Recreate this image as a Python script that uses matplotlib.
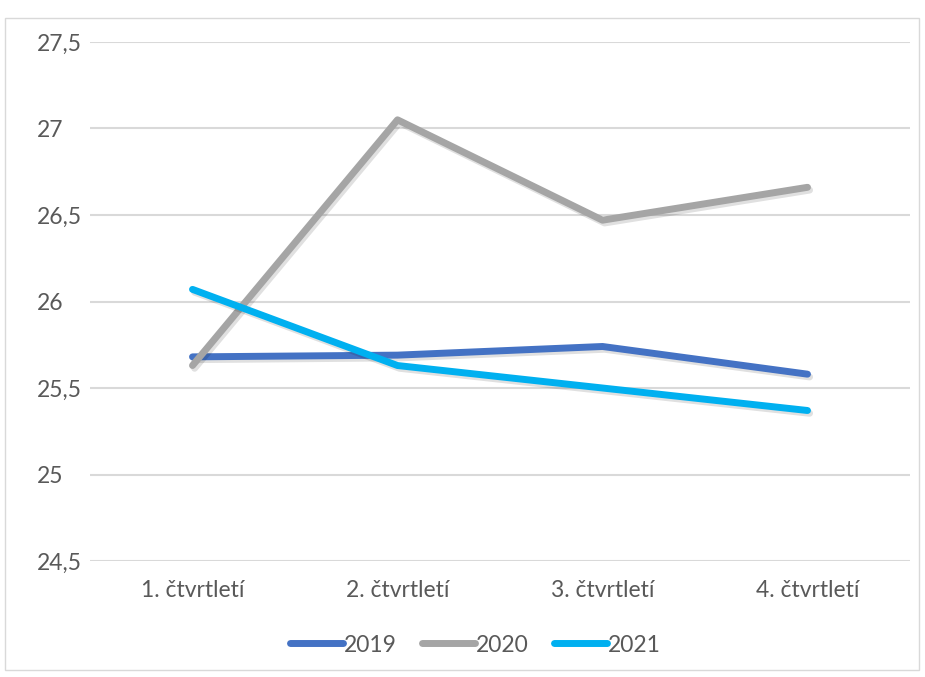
import matplotlib
matplotlib.use("Agg")
import matplotlib.pyplot as plt
import matplotlib.patheffects as pe
from matplotlib.patches import Rectangle
from matplotlib.ticker import FuncFormatter

quarters = ["1. čtvrtletí", "2. čtvrtletí", "3. čtvrtletí", "4. čtvrtletí"]
years = ["2019", "2020", "2021"]
values_2019 = [25.68, 25.69, 25.74, 25.58]
values_2020 = [25.63, 27.05, 26.47, 26.66]
values_2021 = [26.07, 25.63, 25.50, 25.37]
colors = ["#4472C4", "#A5A5A5", "#00B0F0"]

plt.rcParams['font.family'] = ['Lato', 'DejaVu Sans']

fig = plt.figure(figsize=(9.25, 6.77), dpi=100)
ax = fig.add_axes([0.0973, 0.1713, 0.8865, 0.7667])

# outer chart border
fig.patches.append(Rectangle((5 / 925, 7 / 677), 914 / 925, 652 / 677, transform=fig.transFigure,
                             fill=False, edgecolor="#D9D9D9", linewidth=1))

x = range(len(quarters))
shadow = [pe.SimpleLineShadow(offset=(1.5, -2), shadow_color="black", alpha=0.12), pe.Normal()]
for label, vals, c in zip(years, [values_2019, values_2020, values_2021], colors):
    ax.plot(x, vals, color=c, linewidth=5, solid_capstyle="round", solid_joinstyle="round",
            label=label, path_effects=shadow, zorder=3)

ax.set_xlim(-0.5, 3.5)
ax.set_ylim(24.5, 27.5)
ax.set_yticks([24.5, 25, 25.5, 26, 26.5, 27, 27.5])
ax.yaxis.set_major_formatter(FuncFormatter(lambda v, p: ("%g" % v).replace(".", ",")))
ax.set_xticks(list(x))
ax.set_xticklabels(quarters)
ax.tick_params(length=0, labelsize=16.5, labelcolor="#595959")
ax.tick_params(axis="x", pad=14)
for lbl in ax.get_yticklabels():
    lbl.set_horizontalalignment("left")
ax.yaxis.set_tick_params(pad=38)
ax.grid(axis="y", color="#D9D9D9", linewidth=1.5)
ax.set_axisbelow(True)
for s in ax.spines.values():
    s.set_visible(False)

leg = fig.legend(loc="center", bbox_to_anchor=(0.514, (677 - 645) / 677), ncol=3, frameon=False,
                 fontsize=16.5, handlelength=2.3, handletextpad=0.05, columnspacing=1.1,
                 labelcolor="#595959")
for h in leg.get_lines():
    h.set_path_effects([])
    h.set_linewidth(5)
    h.set_solid_capstyle("round")

fig.savefig("out.png", dpi=100)
